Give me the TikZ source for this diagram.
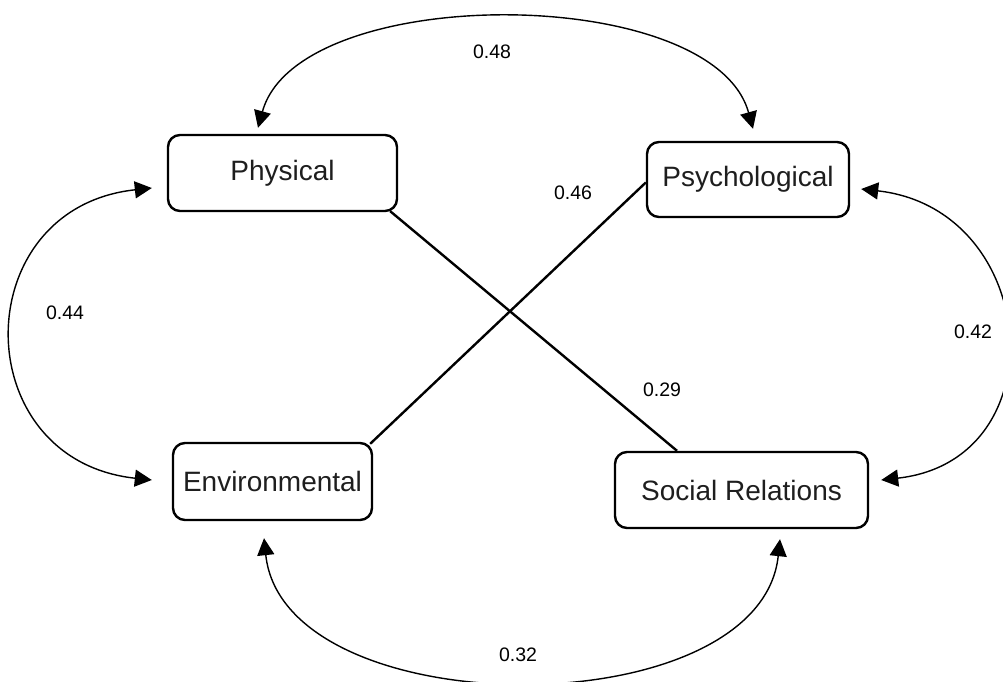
\documentclass[tikz,border=0pt]{standalone}
\usepackage{fontspec}
\setmainfont{Liberation Sans}
\usetikzlibrary{arrows.meta}
\definecolor{txt}{HTML}{1E1E1E}
\begin{document}
\begin{tikzpicture}[x=1pt,y=-1pt,
  box/.style={draw, line width=2.4pt, rounded corners=12pt, align=center, inner sep=0pt,
    text=txt, font=\fontsize{28}{32}\selectfont},
  arc/.style={line width=1.4pt, {Triangle[length=17pt,width=17pt]}-{Triangle[length=17pt,width=17pt]}},
  link/.style={line width=2.4pt},
  val/.style={font=\fontsize{19.5}{22}\selectfont, inner sep=0pt}]
\useasboundingbox (0,0) rectangle (1003,682);
\node[box, minimum width=229pt, minimum height=76pt] (phys) at (282.5,173) {Physical};
\node[box, minimum width=202pt, minimum height=75pt] (psych) at (748,179.5) {Psychological};
\node[box, minimum width=199pt, minimum height=77pt] (env) at (272.5,481.5) {Environmental};
\node[box, minimum width=253pt, minimum height=76pt] (soc) at (741.5,490) {Social Relations};

% curved correlations
\draw[arc] ([xshift=-24.5pt,yshift=6pt]phys.north) .. controls +(40,-146) and +(-40,-146) .. ([xshift=5pt,yshift=12pt]psych.north);
\draw[arc] ([xshift=-15pt,yshift=-15pt]phys.west) .. controls +(-186,20) and +(-186,-20) .. ([xshift=-20pt,yshift=1.5pt]env.west);
\draw[arc] ([xshift=11pt,yshift=-9.5pt]psych.east) .. controls +(179,20) and +(179,-20) .. ([xshift=12pt,yshift=10pt]soc.east);
\draw[arc] ([xshift=-8.5pt,yshift=-17pt]env.south) .. controls +(20,189) and +(-20,189) .. ([xshift=38.5pt,yshift=-10pt]soc.south);

% straight links
\draw[link] ([xshift=-8pt,yshift=1pt]phys.south east) -- ([xshift=-64.5pt]soc.north);
\draw[link] ([yshift=-3pt]psych.west) -- ([xshift=-3pt,yshift=-2pt]env.north east);

% labels
\node[val] (l48) at (492,52) {0.48};
\node[val] (l44) at (65,313) {0.44};
\node[val] (l42) at (973,332) {0.42};
\node[val] (l32) at (518,655) {0.32};
\node[val] (l46) at (573,193) {0.46};
\node[val] (l29) at (662,390) {0.29};
\end{tikzpicture}
\end{document}
